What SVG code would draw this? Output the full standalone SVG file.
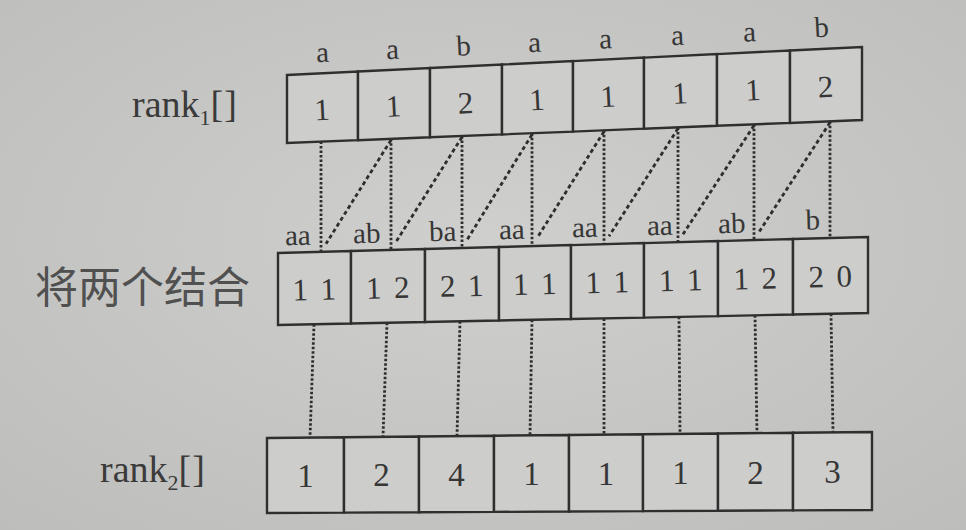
<svg xmlns="http://www.w3.org/2000/svg" width="966" height="530" viewBox="0 0 966 530">
<defs>
<radialGradient id="bg" cx="50%" cy="45%" r="75%">
<stop offset="0" stop-color="#cfcfcd"/>
<stop offset="1" stop-color="#bdbdbb"/>
</radialGradient>
<style>
.cell{fill:#cdcdcb;stroke:#2f2f2f;stroke-width:2.4;stroke-linejoin:miter}
.dig{font-family:"Liberation Serif",serif;font-size:31px;fill:#363636;text-anchor:middle}
.dig2{font-family:"Liberation Serif",serif;font-size:31px;fill:#363636;text-anchor:middle;word-spacing:5px}
.dig3{font-family:"Liberation Serif",serif;font-size:33px;fill:#363636;text-anchor:middle}
.let{font-family:"Liberation Serif",serif;font-size:29px;fill:#363636;text-anchor:middle}
.lab{font-family:"Liberation Serif",serif;font-size:38px;fill:#3a3a3a}
.cjk{font-family:"Noto Sans CJK SC","Noto Sans",sans-serif;font-size:43px;fill:#505050}
.dot{stroke:#2e2e2e;stroke-width:2.8;stroke-dasharray:2.5 2;fill:none}
.dash{stroke:#2e2e2e;stroke-width:2.8;stroke-dasharray:4 3;fill:none}
</style>
</defs>
<rect width="966" height="530" fill="url(#bg)"/>

<g id="labels">
<text class="lab" x="132" y="117">rank<tspan font-size="22" dy="8">1</tspan><tspan dy="-8" letter-spacing="1">[]</tspan></text>
<text class="cjk" x="35" y="303">将两个结合</text>
<text class="lab" x="100" y="482">rank<tspan font-size="22" dy="8">2</tspan><tspan dy="-8" letter-spacing="1">[]</tspan></text>
</g>

<g id="connectors">
<line class="dot" x1="321" y1="141.6" x2="321" y2="251.8"/>
<line class="dot" x1="391" y1="138.8" x2="391" y2="249.9"/>
<line class="dot" x1="462" y1="136.0" x2="462" y2="248.0"/>
<line class="dot" x1="532" y1="133.2" x2="532" y2="246.1"/>
<line class="dot" x1="604" y1="130.3" x2="604" y2="244.2"/>
<line class="dot" x1="678" y1="127.4" x2="678" y2="242.2"/>
<line class="dot" x1="754" y1="124.3" x2="754" y2="240.1"/>
<line class="dot" x1="830" y1="121.3" x2="830" y2="238.0"/>
<line class="dash" x1="391" y1="140" x2="326" y2="243.8"/>
<line class="dash" x1="462" y1="137" x2="396" y2="241.9"/>
<line class="dash" x1="532" y1="134.5" x2="467" y2="240.0"/>
<line class="dash" x1="604" y1="131.5" x2="537" y2="238.1"/>
<line class="dash" x1="678" y1="128.5" x2="609" y2="236.2"/>
<line class="dash" x1="754" y1="125.5" x2="683" y2="234.2"/>
<line class="dash" x1="830" y1="122.5" x2="759" y2="232.1"/>
<line class="dot" x1="314" y1="324.3" x2="310" y2="437.6"/>
<line class="dot" x1="387" y1="322.8" x2="383" y2="436.8"/>
<line class="dot" x1="460" y1="321.3" x2="457" y2="436.1"/>
<line class="dot" x1="532" y1="319.8" x2="530" y2="435.4"/>
<line class="dot" x1="604" y1="318.4" x2="604" y2="434.7"/>
<line class="dot" x1="679" y1="316.8" x2="680" y2="433.9"/>
<line class="dot" x1="755" y1="315.3" x2="757" y2="433.1"/>
<line class="dot" x1="831" y1="313.8" x2="833" y2="432.4"/>
</g>

<g id="r1-0"><polygon class="cell" points="287,75 358,71.5 358,140.2 287,143"/><text class="let" x="323" y="62" transform="rotate(-2.8 323 62)">a</text><text class="dig" x="322.5" y="120" transform="rotate(-2.8 322.5 120)">1</text></g>
<g id="r1-1"><polygon class="cell" points="358,71.5 430,68 430,137.3 358,140.2"/><text class="let" x="393" y="59" transform="rotate(-2.8 393 59)">a</text><text class="dig" x="394" y="116.7" transform="rotate(-2.8 394 116.7)">1</text></g>
<g id="r1-2"><polygon class="cell" points="430,68 502,64.5 502,134.4 430,137.3"/><text class="let" x="464" y="55.5" transform="rotate(-2.8 464 55.5)">b</text><text class="dig" x="466" y="113.4" transform="rotate(-2.8 466 113.4)">2</text></g>
<g id="r1-3"><polygon class="cell" points="502,64.5 573,61.1 573,131.6 502,134.4"/><text class="let" x="535" y="52" transform="rotate(-2.8 535 52)">a</text><text class="dig" x="537.5" y="110.2" transform="rotate(-2.8 537.5 110.2)">1</text></g>
<g id="r1-4"><polygon class="cell" points="573,61.1 644,57.6 644,128.7 573,131.6"/><text class="let" x="606" y="48.5" transform="rotate(-2.8 606 48.5)">a</text><text class="dig" x="608.5" y="106.9" transform="rotate(-2.8 608.5 106.9)">1</text></g>
<g id="r1-5"><polygon class="cell" points="644,57.6 717,54.1 717,125.8 644,128.7"/><text class="let" x="678" y="45" transform="rotate(-2.8 678 45)">a</text><text class="dig" x="680.5" y="103.6" transform="rotate(-2.8 680.5 103.6)">1</text></g>
<g id="r1-6"><polygon class="cell" points="717,54.1 790,50.5 790,122.9 717,125.8"/><text class="let" x="750" y="41.5" transform="rotate(-2.8 750 41.5)">a</text><text class="dig" x="753.5" y="100.3" transform="rotate(-2.8 753.5 100.3)">1</text></g>
<g id="r1-7"><polygon class="cell" points="790,50.5 862,47 862,120 790,122.9"/><text class="let" x="822" y="37" transform="rotate(-2.8 822 37)">b</text><text class="dig" x="826" y="97" transform="rotate(-2.8 826 97)">2</text></g>

<g id="c-0"><polygon class="cell" points="278,253 351,251 351,323.5 278,325"/><text class="let" x="298" y="245" transform="rotate(-1.5 298 245)">aa</text><text class="dig2" x="314.5" y="300" transform="rotate(-1.5 314.5 300)">1 1</text></g>
<g id="c-1"><polygon class="cell" points="351,251 425,249 425,322 351,323.5"/><text class="let" x="367" y="243" transform="rotate(-1.5 367 243)">ab</text><text class="dig2" x="388" y="298.1" transform="rotate(-1.5 388 298.1)">1 2</text></g>
<g id="c-2"><polygon class="cell" points="425,249 499,247 499,320.5 425,322"/><text class="let" x="443" y="241" transform="rotate(-1.5 443 241)">ba</text><text class="dig2" x="462" y="296.3" transform="rotate(-1.5 462 296.3)">2 1</text></g>
<g id="c-3"><polygon class="cell" points="499,247 571,245.1 571,319 499,320.5"/><text class="let" x="512" y="239" transform="rotate(-1.5 512 239)">aa</text><text class="dig2" x="535" y="294.4" transform="rotate(-1.5 535 294.4)">1 1</text></g>
<g id="c-4"><polygon class="cell" points="571,245.1 644,243.1 644,317.6 571,319"/><text class="let" x="585" y="237" transform="rotate(-1.5 585 237)">aa</text><text class="dig2" x="607.5" y="292.6" transform="rotate(-1.5 607.5 292.6)">1 1</text></g>
<g id="c-5"><polygon class="cell" points="644,243.1 718,241.1 718,316.1 644,317.6"/><text class="let" x="660" y="235" transform="rotate(-1.5 660 235)">aa</text><text class="dig2" x="681" y="290.7" transform="rotate(-1.5 681 290.7)">1 1</text></g>
<g id="c-6"><polygon class="cell" points="718,241.1 793,239 793,314.5 718,316.1"/><text class="let" x="732" y="233" transform="rotate(-1.5 732 233)">ab</text><text class="dig2" x="755.5" y="288.9" transform="rotate(-1.5 755.5 288.9)">1 2</text></g>
<g id="c-7"><polygon class="cell" points="793,239 868,237 868,313 793,314.5"/><text class="let" x="813" y="229.5" transform="rotate(-1.5 813 229.5)">b</text><text class="dig2" x="830.5" y="287" transform="rotate(-1.5 830.5 287)">2 0</text></g>

<g id="r2-0"><polygon class="cell" points="267,438 344,437.2 344,512.6 267,513"/><text class="dig3" x="305.5" y="487">1</text></g>
<g id="r2-1"><polygon class="cell" points="344,437.2 419,436.5 419,512.2 344,512.6"/><text class="dig3" x="381.5" y="486.4">2</text></g>
<g id="r2-2"><polygon class="cell" points="419,436.5 494,435.7 494,511.9 419,512.2"/><text class="dig3" x="456.5" y="485.9">4</text></g>
<g id="r2-3"><polygon class="cell" points="494,435.7 569,435 569,511.5 494,511.9"/><text class="dig3" x="531.5" y="485.3">1</text></g>
<g id="r2-4"><polygon class="cell" points="569,435 643,434.3 643,511.1 569,511.5"/><text class="dig3" x="606" y="484.7">1</text></g>
<g id="r2-5"><polygon class="cell" points="643,434.3 718,433.5 718,510.8 643,511.1"/><text class="dig3" x="680.5" y="484.2">1</text></g>
<g id="r2-6"><polygon class="cell" points="718,433.5 793,432.8 793,510.4 718,510.8"/><text class="dig3" x="755.5" y="483.6">2</text></g>
<g id="r2-7"><polygon class="cell" points="793,432.8 872,432 872,510 793,510.4"/><text class="dig3" x="832.5" y="483">3</text></g>
</svg>
